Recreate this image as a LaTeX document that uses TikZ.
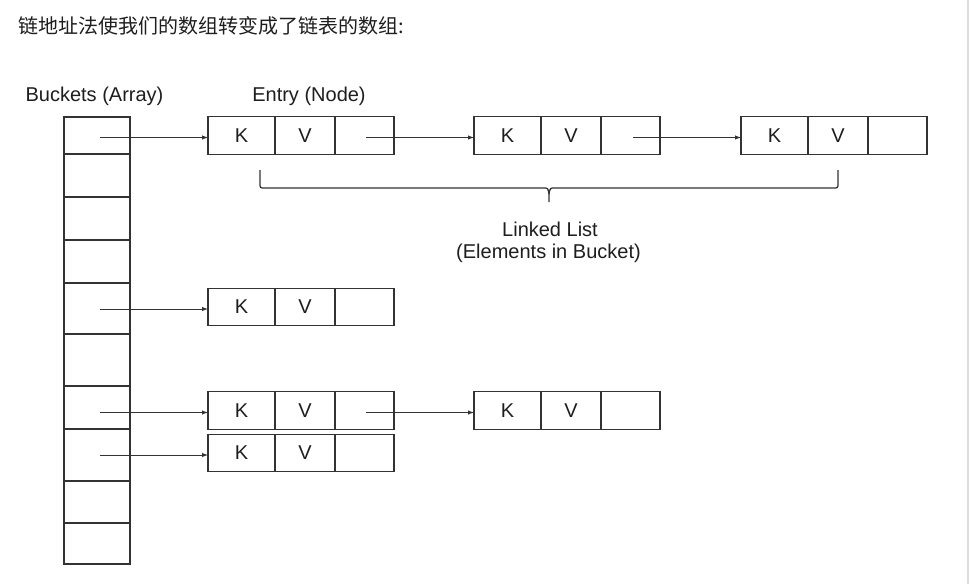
\documentclass[tikz,border=0pt]{standalone}
\usepackage{fontspec}
\setmainfont{Liberation Sans}
\newfontfamily\cjk{Noto Sans CJK SC}
\usetikzlibrary{arrows.meta}
\definecolor{ink}{HTML}{1E1E1E}
\definecolor{edge}{HTML}{333333}
\definecolor{rim}{HTML}{DDDDDD}
\begin{document}
\begin{tikzpicture}[x=1pt,y=-1pt,
  cell/.style={draw=edge, line width=1.3pt, rectangle, inner sep=0pt, outer sep=0pt, minimum height=37.5pt, font=\fontsize{20}{24}\selectfont, text=ink},
  bcell/.style={draw=edge, line width=1.3pt, rectangle, inner sep=0pt, outer sep=0pt, minimum width=66pt},
  kc/.style={cell, minimum width=67pt, anchor=west},
  vc/.style={cell, minimum width=60pt, anchor=west},
  pc/.style={cell, minimum width=59pt, anchor=west},
  lbl/.style={font=\fontsize{20}{24}\selectfont, text=ink, inner sep=0pt, anchor=base},
  arr/.style={draw=edge, line width=1pt, -{Latex[length=6pt,width=4.5pt]}},
  brace/.style={draw=edge, line width=1.3pt}
]
\useasboundingbox (0,0) rectangle (970,584);
\fill[white] (0,0) rectangle (970,584);
\draw[rim, line width=1.5pt] (968,0) -- (968,584);

% title
\node[font=\cjk\fontsize{20}{24}\selectfont, text=ink, inner sep=0pt, anchor=base west] (title) at (18,33) {链地址法使我们的数组转变成了链表的数组:};

% labels
\node[lbl] (lb) at (94.5,101.5) {Buckets (Array)};
\node[lbl] (le) at (309,101.5) {Entry (Node)};
\node[lbl] (ll1) at (550,236) {Linked List};
\node[lbl] (ll2) at (548.5,258.5) {(Elements in Bucket)};

% buckets
\node[bcell, minimum height=37pt] (b1) at (97,135.5) {};
\node[bcell, minimum height=43pt] (b2) at (97,175.5) {};
\node[bcell, minimum height=43pt] (b3) at (97,218.5) {};
\node[bcell, minimum height=43pt] (b4) at (97,261.5) {};
\node[bcell, minimum height=51pt] (b5) at (97,308.5) {};
\node[bcell, minimum height=52pt] (b6) at (97,360) {};
\node[bcell, minimum height=43pt] (b7) at (97,407.5) {};
\node[bcell, minimum height=52pt] (b8) at (97,455) {};
\node[bcell, minimum height=42pt] (b9) at (97,502) {};
\node[bcell, minimum height=41pt] (b10) at (97,543.5) {};

% entries row 1
\node[kc] (a1k) at (208,135.5) {K};
\node[vc] (a1v) at (a1k.east) {V};
\node[pc] (a1p) at (a1v.east) {};
\node[kc] (a2k) at (474,135.5) {K};
\node[vc] (a2v) at (a2k.east) {V};
\node[pc] (a2p) at (a2v.east) {};
\node[kc] (a3k) at (741,135.5) {K};
\node[vc] (a3v) at (a3k.east) {V};
\node[pc] (a3p) at (a3v.east) {};

% row 5
\node[kc] (c1k) at (208,307) {K};
\node[vc] (c1v) at (c1k.east) {V};
\node[pc] (c1p) at (c1v.east) {};

% row 7
\node[kc] (d1k) at (208,410.5) {K};
\node[vc] (d1v) at (d1k.east) {V};
\node[pc] (d1p) at (d1v.east) {};
\node[kc] (d2k) at (474,410.5) {K};
\node[vc] (d2v) at (d2k.east) {V};
\node[pc] (d2p) at (d2v.east) {};

% row 8
\node[kc] (f1k) at (208,453) {K};
\node[vc] (f1v) at (f1k.east) {V};
\node[pc] (f1p) at (f1v.east) {};

% arrow ends and starts
\coordinate (ta1) at ([yshift=-2pt]a1k.west);
\coordinate (ta2) at ([yshift=-2pt]a2k.west);
\coordinate (ta3) at ([yshift=-2pt]a3k.west);
\coordinate (tc1) at ([yshift=-2pt]c1k.west);
\coordinate (td1) at ([yshift=-2pt]d1k.west);
\coordinate (td2) at ([yshift=-2pt]d2k.west);
\coordinate (tf1) at ([yshift=-2pt]f1k.west);
\coordinate (sb1) at ([xshift=3pt]b1.center);
\coordinate (sb5) at ([xshift=3pt]b5.center);
\coordinate (sb7) at ([xshift=3pt]b7.center);
\coordinate (sb8) at ([xshift=3pt]b8.center);
\coordinate (sa1) at ([xshift=1.5pt]a1p.center);
\coordinate (sa2) at ([xshift=2.5pt]a2p.center);
\coordinate (sd1) at ([xshift=1.5pt]d1p.center);

% arrows
\draw[arr] (sb1 |- ta1) -- (ta1);
\draw[arr] (sa1 |- ta2) -- (ta2);
\draw[arr] (sa2 |- ta3) -- (ta3);
\draw[arr] (sb5 |- tc1) -- (tc1);
\draw[arr] (sb7 |- td1) -- (td1);
\draw[arr] (sd1 |- td2) -- (td2);
\draw[arr] (sb8 |- tf1) -- (tf1);

% brace
\coordinate (brL) at (260,170);
\coordinate (brR) at (838,170);
\coordinate (brM) at (549,202);
\draw[brace] (brL) -- (260,183) .. controls (260,188) .. (265,188) -- (543,188) .. controls (548,188) .. (549,194) -- (brM);
\draw[brace] (brR) -- (838,183) .. controls (838,188) .. (833,188) -- (555,188) .. controls (550,188) .. (549,194);
\end{tikzpicture}
\end{document}
